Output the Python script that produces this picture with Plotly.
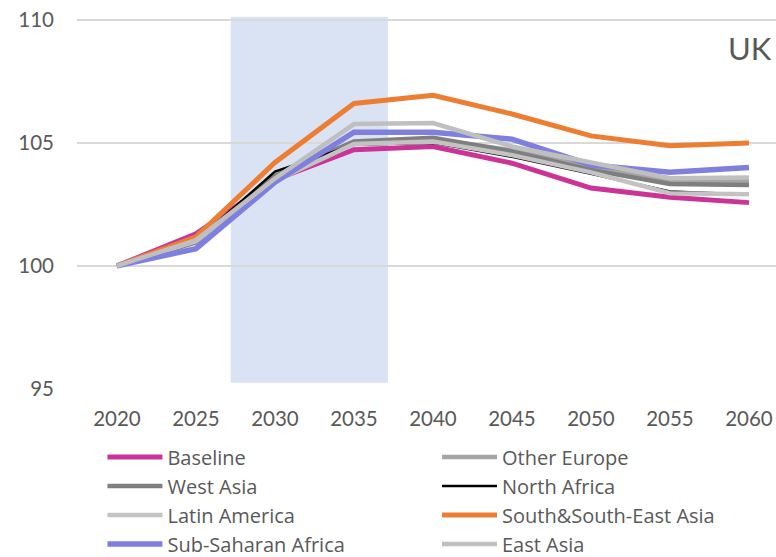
import plotly.graph_objects as go

years = [2020, 2025, 2030, 2035, 2040, 2045, 2050, 2055, 2060]

baseline = [100, 101.3, 103.5, 104.72, 104.85, 104.17, 103.16, 102.79, 102.57]
other_europe = [100, 101.05, 103.6, 105.0, 105.15, 104.7, 104.0, 103.45, 103.46]
west_asia = [100, 100.95, 103.65, 105.05, 105.2, 104.65, 103.9, 103.33, 103.29]
north_africa = [100, 101.0, 103.83, 104.92, 105.0, 104.43, 103.74, 103.02, 102.9]
latin_america = [100, 101.0, 103.45, 104.95, 105.05, 104.5, 103.8, 102.95, 102.91]
south_se_asia = [100, 101.18, 104.2, 106.6, 106.93, 106.17, 105.28, 104.88, 104.99]
sub_saharan = [100, 100.7, 103.4, 105.43, 105.43, 105.15, 104.1, 103.8, 104.0]
east_asia = [100, 101.05, 103.55, 105.76, 105.8, 104.85, 104.2, 103.56, 103.59]

series = [
    ("Baseline", baseline, "#CB3397", 5, "legend"),
    ("Other Europe", other_europe, "#A5A5A5", 4.5, "legend2"),
    ("West Asia", west_asia, "#7F7F7F", 4.5, "legend"),
    ("North Africa", north_africa, "#000000", 2.5, "legend2"),
    ("Latin America", latin_america, "#C3C3C3", 4.5, "legend"),
    ("South&South-East Asia", south_se_asia, "#ED7D31", 5, "legend2"),
    ("Sub-Saharan Africa", sub_saharan, "#7F7FE0", 5.5, "legend"),
    ("East Asia", east_asia, "#BFBFBF", 4.5, "legend2"),
]

shade_x = [2027.2, 2037.15]
shade_y = [95.25, 110.12]

fig = go.Figure()
for name, vals, color, w, lg in series:
    fig.add_trace(go.Scatter(x=years, y=vals, mode="lines", name=name, legend=lg,
                             line=dict(color=color, width=w)))

fig.add_shape(type="rect", xref="x", yref="y", x0=shade_x[0], x1=shade_x[1],
              y0=shade_y[0], y1=shade_y[1], fillcolor="#DAE3F3",
              line=dict(width=0), layer="below")

fig.add_annotation(text="UK", xref="paper", yref="paper", x=0.963, y=0.915,
                   xanchor="center", yanchor="middle",
                   showarrow=False, font=dict(size=31, color="#595959"))

legend_common = dict(orientation="v", yref="paper", xref="paper",
                     y=-0.1298, yanchor="top", xanchor="left", itemwidth=55,
                     font=dict(family="Open Sans, sans-serif", size=20, color="#595959"),
                     bgcolor="rgba(0,0,0,0)")

fig.update_layout(
    width=776, height=557,
    margin=dict(l=77, r=0, t=16, b=168, autoexpand=False),
    paper_bgcolor="white", plot_bgcolor="white",
    font=dict(family="Lato, Open Sans, sans-serif", color="#595959", size=20),
    xaxis=dict(range=[2017.47, 2061.71], tickvals=years, showgrid=False,
               zeroline=False, showline=False, ticks="", ticklabelstandoff=15,
               automargin=False, ticklabeloverflow="allow",
               tickfont=dict(size=20.5, color="#595959")),
    yaxis=dict(range=[95, 110.15], tickvals=[95, 100, 105, 110], showgrid=True,
               gridcolor="#D9D9D9", gridwidth=1.5, zeroline=False, showline=False,
               ticks="", ticklabelstandoff=22, automargin=False,
               ticklabeloverflow="allow",
               tickfont=dict(size=20.5, color="#595959")),
    legend=dict(x=0.0364, **legend_common),
    legend2=dict(x=0.515, **legend_common),
    showlegend=True,
)

fig.write_html("out.html", config={"displayModeBar": False},
               post_script="document.body.style.margin='0';")
